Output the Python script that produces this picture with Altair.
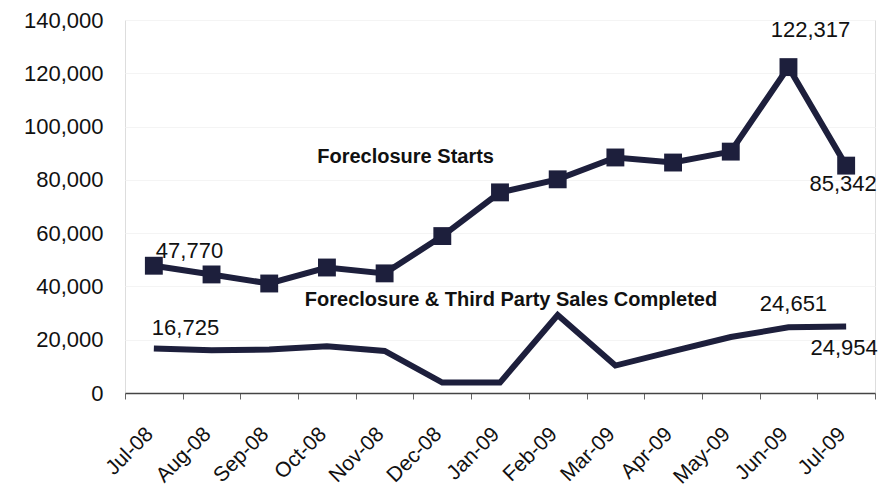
import altair as alt
import pandas as pd

months = ["Jul-08", "Aug-08", "Sep-08", "Oct-08", "Nov-08", "Dec-08", "Jan-09",
          "Feb-09", "Mar-09", "Apr-09", "May-09", "Jun-09", "Jul-09"]
starts = [47770, 44500, 41100, 47100, 44900, 58900, 75300, 80200, 88400, 86500, 90600, 122317, 85342]
sales = [16725, 16000, 16300, 17500, 15800, 3900, 3900, 29300, 10300, 15700, 21000, 24651, 24954]

NAVY = "#1d1f3c"
FONT = "Liberation Sans"

df = pd.DataFrame({"month": months, "starts": starts, "sales": sales})

x_enc = alt.X(
    "month:O", sort=months, bandPosition=0.5,
    scale=alt.Scale(type="band", paddingInner=0, paddingOuter=0),
    axis=alt.Axis(
        title=None, labelAngle=-45, tickBand="extent", labelFontSize=21,
        labelFont=FONT, labelColor="#111111", domainColor="#444444",
        domainWidth=1.5, tickColor="#666666", tickSize=6, tickWidth=1,
        labelPadding=24, labelOffset=-12, grid=False,
    ),
)
y_scale = alt.Scale(domain=[0, 140000], nice=False)
y_axis = alt.Axis(
    title=None, values=list(range(0, 140001, 20000)), format=",d",
    labelFontSize=22, labelFont=FONT, labelColor="#111111", ticks=False,
    domain=False, labelPadding=22, grid=True, gridColor="#f4f4f4", gridWidth=1,
)

base = alt.Chart(df)

starts_line = base.mark_line(color=NAVY, strokeWidth=6).encode(
    x=x_enc, y=alt.Y("starts:Q", scale=y_scale, axis=y_axis)
)
starts_pts = base.mark_square(color=NAVY, size=320, opacity=1).encode(
    x=x_enc, y=alt.Y("starts:Q", scale=y_scale)
)
sales_line = base.mark_line(color=NAVY, strokeWidth=6).encode(
    x=x_enc, y=alt.Y("sales:Q", scale=y_scale)
)


def label(month, field, value, dx, dy, align="center"):
    d = pd.DataFrame({"month": [month], field: [value], "txt": [f"{value:,}"]})
    return alt.Chart(d).mark_text(
        font=FONT, fontSize=22, color="#111111", dx=dx, dy=dy, align=align,
        baseline="middle",
    ).encode(
        x=alt.X("month:O", sort=months, bandPosition=0.5),
        y=alt.Y(f"{field}:Q", scale=y_scale),
        text="txt:N",
    )


def note(month, value, text, dx):
    d = pd.DataFrame({"month": [month], "v": [value], "txt": [text]})
    return alt.Chart(d).mark_text(
        font=FONT, fontSize=20, fontWeight="bold", color="#111111", dx=dx,
        align="center", baseline="middle",
    ).encode(
        x=alt.X("month:O", sort=months, bandPosition=0.5),
        y=alt.Y("v:Q", scale=y_scale),
        text="txt:N",
    )


labels = [
    label(months[0], "starts", starts[0], 2, -15, "left"),
    label(months[11], "starts", starts[11], 22, -37),
    label(months[12], "starts", starts[12], -3, 18),
    label(months[0], "sales", sales[0], -2, -20, "left"),
    label(months[11], "sales", sales[11], 5, -23),
    label(months[12], "sales", sales[12], -2, 21),
    note("Nov-08", 88400, "Foreclosure Starts", 21),
    note("Jan-09", 35000, "Foreclosure & Third Party Sales Completed", 11),
]

chart = alt.layer(starts_line, sales_line, starts_pts, *labels).properties(
    width=750, height=373,
    autosize=alt.AutoSizeParams(type="none"),
    padding={"left": 117, "top": 12, "right": 11, "bottom": 110},
).configure_view(stroke=None).configure(background="white")

chart.save("out.html", embed_options={"renderer": "svg", "actions": False})
